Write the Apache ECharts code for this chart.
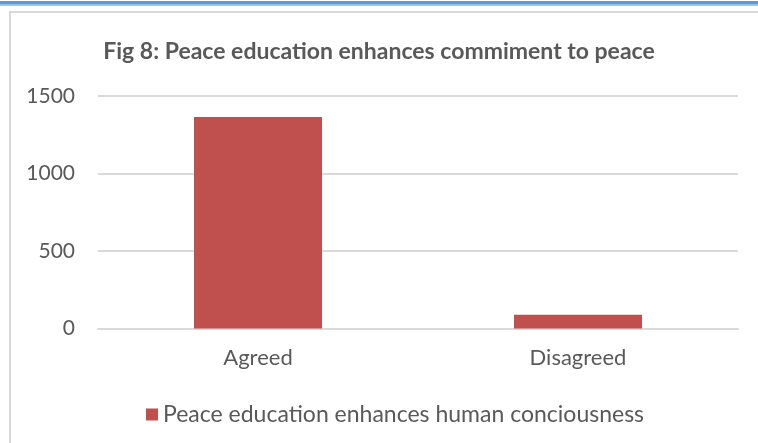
<!DOCTYPE html>
<html><head><meta charset="utf-8">
<script src="https://cdn.jsdelivr.net/npm/echarts@6/dist/echarts.min.js"></script>
<style>
html,body{margin:0;padding:0;background:#fff;}
#topbar{position:absolute;left:0;top:1px;width:758px;height:3px;background:#5b9bd5;}
#topbar2{position:absolute;left:0;top:4px;width:758px;height:2px;background:#9dc3e6;}
#frame{position:absolute;left:9px;top:11px;width:760px;height:450px;border-left:2px solid #d9d9d9;border-top:2px solid #d9d9d9;}
#chart{position:absolute;left:0;top:0;width:758px;height:443px;}
</style></head>
<body>
<div id="topbar"></div><div id="topbar2"></div><div id="frame"></div>
<div id="chart"></div>
<script>
const titleText = 'Fig 8: Peace education enhances commiment to peace';
const categories = ['Agreed', 'Disagreed'];
const seriesName = 'Peace education enhances human conciousness';
const values = [1365, 88];
const yTicks = [0, 500, 1000, 1500];

const FONT = 'Lato, "Liberation Sans", sans-serif';
const chart = echarts.init(document.getElementById('chart'), null, {renderer: 'canvas'});
chart.setOption({
  animation: false,
  backgroundColor: 'transparent',
  title: {
    text: titleText, left: 'center', top: 35,
    textStyle: {fontFamily: FONT, fontWeight: 'bold', fontSize: 23, color: '#595959'}
  },
  legend: {
    data: [seriesName], top: 398, left: 141,
    icon: 'rect', itemWidth: 12, itemHeight: 12, itemGap: 6,
    textStyle: {fontFamily: FONT, fontSize: 23, color: '#595959'}
  },
  grid: {left: 98, right: 20, top: 96, bottom: 114.5, containLabel: false},
  xAxis: {
    type: 'category', data: categories,
    axisLine: {lineStyle: {color: '#d9d9d9', width: 2}},
    axisTick: {show: false},
    axisLabel: {fontFamily: FONT, fontSize: 22, color: '#595959', margin: 18}
  },
  yAxis: {
    type: 'value', min: yTicks[0], max: yTicks[yTicks.length - 1], interval: yTicks[1] - yTicks[0],
    axisLine: {show: false}, axisTick: {show: false},
    splitLine: {lineStyle: {color: '#d9d9d9', width: 2}},
    axisLabel: {fontFamily: FONT, fontSize: 21, color: '#595959', margin: 23,
      formatter: v => String(v)}
  },
  series: [{
    name: seriesName, type: 'bar', data: values, barWidth: '40%',
    itemStyle: {color: '#c0504d'}
  }]
});
</script>
</body></html>
